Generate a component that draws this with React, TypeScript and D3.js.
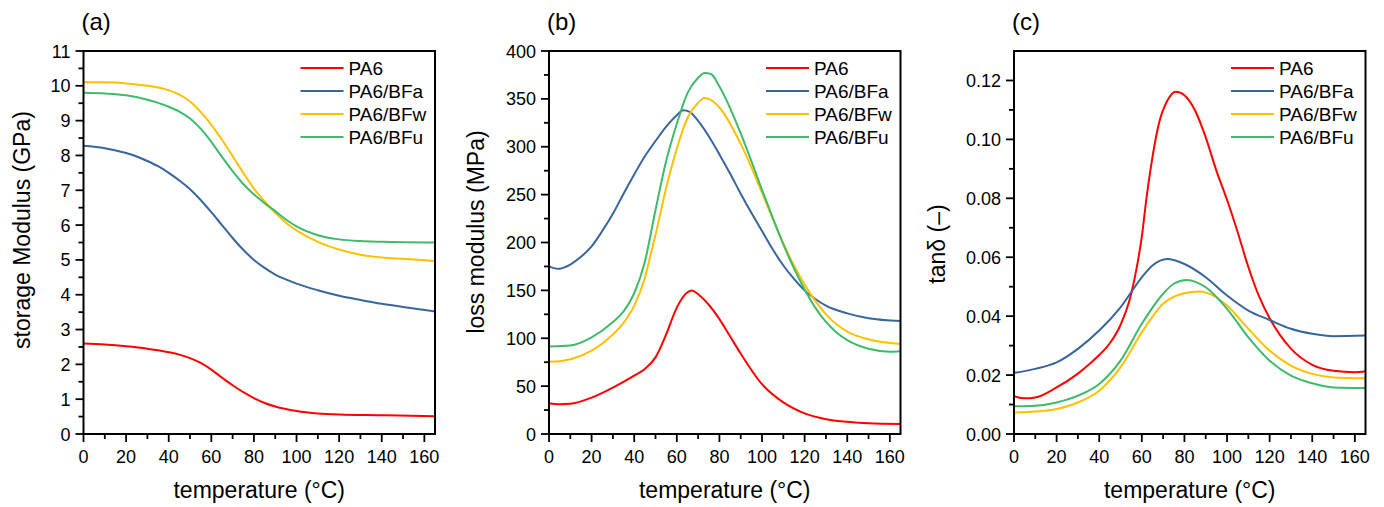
import React from "react";
import * as d3 from "d3";

type Pt = [number, number];

const seriesNames = ["PA6", "PA6/BFa", "PA6/BFw", "PA6/BFu"];
const seriesColors = ["#ff0000", "#38659c", "#ffc000", "#3dbb6a"];

// (a) storage modulus (GPa)
const storagePA6: Pt[] = [[0,2.6],[10,2.57],[20,2.52],[30,2.45],[40,2.35],[45,2.28],[50,2.18],[55,2.04],[60,1.85],[65,1.62],[70,1.4],[75,1.2],[80,1.03],[85,0.89],[90,0.79],[100,0.66],[110,0.59],[120,0.56],[140,0.54],[165,0.51]];
const storageBFa: Pt[] = [[0,8.28],[10,8.21],[20,8.07],[25,7.97],[30,7.84],[35,7.69],[40,7.5],[45,7.28],[50,7.03],[55,6.72],[60,6.37],[65,6.0],[70,5.63],[75,5.29],[80,5.0],[85,4.77],[90,4.58],[95,4.44],[100,4.32],[110,4.13],[120,3.97],[130,3.85],[140,3.74],[150,3.65],[165,3.52]];
const storageBFw: Pt[] = [[0,10.1],[10,10.1],[20,10.07],[30,10.0],[35,9.95],[40,9.87],[45,9.75],[50,9.55],[55,9.25],[60,8.88],[65,8.45],[70,7.98],[75,7.5],[80,7.05],[85,6.68],[90,6.35],[95,6.07],[100,5.85],[110,5.52],[120,5.3],[130,5.15],[140,5.07],[150,5.03],[165,4.97]];
const storageBFu: Pt[] = [[0,9.8],[10,9.78],[20,9.73],[30,9.6],[35,9.51],[40,9.4],[45,9.26],[50,9.06],[55,8.77],[60,8.39],[65,7.96],[70,7.55],[75,7.18],[80,6.88],[85,6.63],[90,6.4],[95,6.16],[100,5.96],[110,5.71],[120,5.59],[130,5.54],[140,5.52],[165,5.5]];

// (b) loss modulus (MPa)
const lossPA6: Pt[] = [[0,32],[5,31],[10,31.5],[20,38],[30,48.5],[40,61],[45,68],[50,80],[55,104],[60,132],[65,148],[67,150],[70,146],[75,135],[80,120],[85,102],[90,84],[100,52],[110,33],[120,21.5],[130,15.5],[140,12.8],[150,11.2],[165,10.5]];
const lossBFa: Pt[] = [[0,175],[4,172.5],[10,177],[15,185],[20,196],[25,212],[30,230],[35,251],[40,271],[45,290],[50,306],[55,321],[60,333],[63,338],[66,336.5],[70,327],[75,311],[80,292],[85,272],[90,251],[95,231],[100,212],[105,193],[110,176],[115,162],[120,150],[125,141],[130,134],[140,126],[150,121],[165,118]];
const lossBFw: Pt[] = [[0,75.5],[5,76],[10,78],[20,87],[30,104],[35,116],[40,134],[45,163],[48,190],[50,208],[55,257],[60,298],[65,330],[70,346],[73,351],[76,349],[80,341],[90,303],[100,252],[105,225],[110,199],[115,176],[120,156],[125,139],[130,125],[140,107],[150,99],[165,94]];
const lossBFu: Pt[] = [[0,91.5],[10,92.5],[20,101],[30,117],[35,128],[40,147],[45,180],[50,234],[55,285],[60,324],[65,356],[70,372],[73,377],[76,376],[80,363],[90,314],[95,285],[100,255],[105,226],[110,198],[115,173],[120,151],[125,132],[130,117],[135,106],[140,98],[150,89],[160,86],[165,86.5]];

// (c) tan delta
const tanPA6: Pt[] = [[0,0.0128],[5,0.0121],[10,0.0124],[20,0.0158],[30,0.0205],[35,0.0235],[40,0.0268],[45,0.0308],[50,0.037],[55,0.0475],[58,0.058],[60,0.067],[62,0.079],[65,0.094],[68,0.1053],[72,0.1132],[76,0.1162],[80,0.115],[85,0.1098],[90,0.1007],[95,0.0894],[100,0.0795],[105,0.0685],[110,0.0567],[115,0.0468],[120,0.0393],[125,0.0335],[130,0.029],[140,0.0235],[150,0.0215],[160,0.021],[165,0.0213]];
const tanBFa: Pt[] = [[0,0.0207],[10,0.0221],[20,0.0243],[30,0.0289],[40,0.0351],[50,0.043],[60,0.0532],[65,0.0572],[72,0.0594],[80,0.0577],[90,0.0532],[100,0.047],[110,0.0419],[120,0.0387],[130,0.0357],[140,0.034],[150,0.0332],[165,0.0334]];
const tanBFw: Pt[] = [[0,0.0073],[10,0.0076],[20,0.0085],[30,0.0107],[40,0.0147],[50,0.0226],[60,0.0345],[70,0.0442],[80,0.0478],[87,0.0484],[95,0.0464],[100,0.0436],[110,0.0357],[120,0.0283],[130,0.0232],[140,0.0204],[150,0.0192],[165,0.0189]];
const tanBFu: Pt[] = [[0,0.0094],[10,0.0096],[20,0.0107],[30,0.013],[40,0.017],[50,0.0249],[60,0.0374],[70,0.0476],[75,0.051],[81,0.0523],[90,0.0498],[100,0.0425],[110,0.0328],[120,0.0249],[130,0.0198],[140,0.0172],[150,0.0158],[165,0.0156]];

const xMajorTicks = [0, 20, 40, 60, 80, 100, 120, 140, 160];
const xMinorTicks = [10, 30, 50, 70, 90, 110, 130, 150];

const storageTicks = [0,1,2,3,4,5,6,7,8,9,10,11];
const storageMinor = [0.5,1.5,2.5,3.5,4.5,5.5,6.5,7.5,8.5,9.5,10.5];
const lossTicks = [0,50,100,150,200,250,300,350,400];
const lossMinor = [25,75,125,175,225,275,325,375];
const tanTicks = [0,0.02,0.04,0.06,0.08,0.1,0.12];
const tanMinor = [0.01,0.03,0.05,0.07,0.09,0.11];

const FONT = "'Liberation Sans', Arial, Helvetica, sans-serif";

type PanelProps = {
  left: number;
  label: string;
  yTitle: string;
  yTitleX: number;
  yTitleY: number;
  yDomain: [number, number];
  yTicks: number[];
  yMinor: number[];
  fmt: (v: number) => string;
  data: Pt[][];
};

const TOP = 51;
const BOTTOM = 434;
const WIDTH = 351.5;

function Panel(p: PanelProps) {
  const x = d3.scaleLinear().domain([0, 165]).range([p.left, p.left + WIDTH]);
  const y = d3.scaleLinear().domain(p.yDomain).range([BOTTOM, TOP]);
  const line = d3
    .line<Pt>()
    .x((d) => x(d[0]))
    .y((d) => y(d[1]))
    .curve(d3.curveMonotoneX);
  const legX = p.left + 217;
  return (
    <g fontFamily={FONT}>
      <text x={p.left - 2} y={30} fontSize={24}>{p.label}</text>
      {p.data.map((s, i) => (
        <path key={i} d={line(s) || ""} fill="none" stroke={seriesColors[i]} strokeWidth={2} />
      ))}
      <rect x={p.left} y={TOP} width={WIDTH} height={BOTTOM - TOP} fill="none" stroke="#000" strokeWidth={2} />
      {xMajorTicks.map((t) => (
        <g key={"xm" + t}>
          <line x1={x(t)} x2={x(t)} y1={BOTTOM} y2={BOTTOM + 8} stroke="#000" strokeWidth={1.8} />
          <text x={x(t)} y={463} fontSize={18} textAnchor="middle">{t}</text>
        </g>
      ))}
      {xMinorTicks.map((t) => (
        <line key={"xn" + t} x1={x(t)} x2={x(t)} y1={BOTTOM} y2={BOTTOM + 5} stroke="#000" strokeWidth={1.8} />
      ))}
      {p.yTicks.map((t) => (
        <g key={"ym" + t}>
          <line x1={p.left - 8} x2={p.left} y1={y(t)} y2={y(t)} stroke="#000" strokeWidth={1.8} />
          <text x={p.left - 13} y={y(t) + 6.5} fontSize={18} textAnchor="end">{p.fmt(t)}</text>
        </g>
      ))}
      {p.yMinor.map((t) => (
        <line key={"yn" + t} x1={p.left - 5} x2={p.left} y1={y(t)} y2={y(t)} stroke="#000" strokeWidth={1.8} />
      ))}
      <text x={p.left + WIDTH / 2} y={498} fontSize={23} textAnchor="middle">temperature (°C)</text>
      <text transform={`translate(${p.yTitleX},${p.yTitleY}) rotate(-90)`} fontSize={23} textAnchor="middle">{p.yTitle}</text>
      {seriesNames.map((n, i) => (
        <g key={n}>
          <line x1={legX} x2={legX + 43} y1={68 + i * 23} y2={68 + i * 23} stroke={seriesColors[i]} strokeWidth={2} />
          <text x={legX + 48} y={68 + i * 23 + 6.5} fontSize={19}>{n}</text>
        </g>
      ))}
    </g>
  );
}

export default function App() {
  const intFmt = (v: number) => String(v);
  const tanFmt = d3.format(".2f");
  return (
    <svg width={1384} height={507} style={{ display: "block", position: "absolute", left: 0, top: 0 }}>
      <rect width={1384} height={507} fill="#fff" />
      <Panel left={83.5} label="(a)" yTitle="storage Modulus (GPa)" yTitleX={29.5} yTitleY={230}
        yDomain={[0, 11]} yTicks={storageTicks} yMinor={storageMinor} fmt={intFmt}
        data={[storagePA6, storageBFa, storageBFw, storageBFu]} />
      <Panel left={549} label="(b)" yTitle="loss modulus (MPa)" yTitleX={483.5} yTitleY={232}
        yDomain={[0, 400]} yTicks={lossTicks} yMinor={lossMinor} fmt={intFmt}
        data={[lossPA6, lossBFa, lossBFw, lossBFu]} />
      <Panel left={1014} label="(c)" yTitle="tanδ (–)" yTitleX={945} yTitleY={244}
        yDomain={[0, 0.13]} yTicks={tanTicks} yMinor={tanMinor} fmt={tanFmt}
        data={[tanPA6, tanBFa, tanBFw, tanBFu]} />
    </svg>
  );
}
